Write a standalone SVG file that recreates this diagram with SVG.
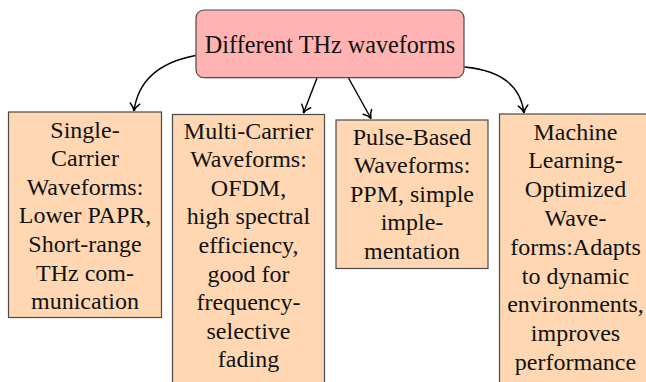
<svg xmlns="http://www.w3.org/2000/svg" width="646" height="382" viewBox="0 0 646 382">
<style>
.box{fill:#FFD8B3;stroke:#4a4a4a;stroke-width:1.2}
.root{fill:#FFB3B3;stroke:#4a4a4a;stroke-width:1.2}
text{font-family:'Liberation Serif',serif;fill:#111;text-anchor:middle}
.t{font-size:24px}
.rt{font-size:24.2px}
.c{fill:none;stroke:#000;stroke-width:1.4}
</style>
<defs>
<marker id="arr" markerUnits="userSpaceOnUse" orient="auto" refX="0" refY="0" markerWidth="12" markerHeight="12" viewBox="-9 -6 10 12" overflow="visible">
<path d="M -7.5 -4.8 C -5 -2 -2 -0.5 0 0 C -2 0.5 -5 2 -7.5 4.8" fill="none" stroke="#000" stroke-width="1.5" stroke-linecap="round"/>
</marker>
</defs>
<g id="connectors">
<path class="c" d="M195.5,55.5 Q140,66 134,111" marker-end="url(#arr)"/>
<path class="c" d="M317,78 L303.5,113" marker-end="url(#arr)"/>
<path class="c" d="M348.5,78 L371,118.5" marker-end="url(#arr)"/>
<path class="c" d="M464.5,67 Q519,72 524,113" marker-end="url(#arr)"/>
</g>
<g id="root" font-family="Liberation Serif, serif">
<rect class="root" x="196" y="10" width="268" height="67.7" rx="8"/>
<text class="rt" x="330" y="52.5">Different THz waveforms</text>
</g>
<g id="single" font-family="Liberation Serif, serif">
<rect class="box" x="8.5" y="112" width="153" height="205.5"/>
<text class="t" x="85" y="137.5">Single-</text>
<text class="t" x="85" y="166.1">Carrier</text>
<text class="t" x="85" y="194.7">Waveforms:</text>
<text class="t" x="85" y="223.3">Lower PAPR,</text>
<text class="t" x="85" y="251.9">Short-range</text>
<text class="t" x="85" y="280.5">THz com-</text>
<text class="t" x="85" y="309.1">munication</text>
</g>
<g id="multi" font-family="Liberation Serif, serif">
<rect class="box" x="172.5" y="114.5" width="152" height="280"/>
<text class="t" x="248.5" y="138.5">Multi-Carrier</text>
<text class="t" x="248.5" y="167.1">Waveforms:</text>
<text class="t" x="248.5" y="195.7">OFDM,</text>
<text class="t" x="248.5" y="224.3">high spectral</text>
<text class="t" x="248.5" y="252.9">efficiency,</text>
<text class="t" x="248.5" y="281.5">good for</text>
<text class="t" x="248.5" y="310.1">frequency-</text>
<text class="t" x="248.5" y="338.7">selective</text>
<text class="t" x="248.5" y="367.3">fading</text>
</g>
<g id="pulse" font-family="Liberation Serif, serif">
<rect class="box" x="336" y="120" width="152" height="148.5"/>
<text class="t" x="412" y="144.5">Pulse-Based</text>
<text class="t" x="412" y="173">Waveforms:</text>
<text class="t" x="412" y="201.5">PPM, simple</text>
<text class="t" x="412" y="230">imple-</text>
<text class="t" x="412" y="258.5">mentation</text>
</g>
<g id="ml" font-family="Liberation Serif, serif">
<rect class="box" x="499.5" y="114" width="153" height="280"/>
<text class="t" x="575.5" y="139.5">Machine</text>
<text class="t" x="575.5" y="168.3">Learning-</text>
<text class="t" x="575.5" y="197.1">Optimized</text>
<text class="t" x="575.5" y="225.9">Wave-</text>
<text class="t" x="575.5" y="254.7">forms:Adapts</text>
<text class="t" x="575.5" y="283.5">to dynamic</text>
<text class="t" x="575.5" y="312.3">environments,</text>
<text class="t" x="575.5" y="341.1">improves</text>
<text class="t" x="575.5" y="369.9">performance</text>
</g>
</svg>
